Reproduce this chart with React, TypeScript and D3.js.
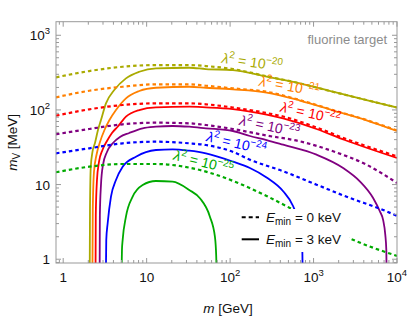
import React from "react";
import * as d3 from "d3";

type Pt = [number, number];

// E_min = 0 keV (dashed) and E_min = 3 keV (solid) as [m GeV, mV MeV]
const lam20Dashed: Pt[] = [[0.82, 273.2], [2.054, 331.8], [5.16, 378.8], [12.93, 399.1], [32.37, 399.1], [51.31, 387], [108, 352.8], [273.6, 282.6], [685.4, 227.1], [1702, 175.2], [4313, 135.7], [10000, 107.7]];
const lam20Solid: Pt[] = [[2.08, 0.8], [2.094, 4.571], [2.14, 17.2], [2.243, 27.32], [2.403, 36.04], [2.611, 53.83], [2.836, 73.24], [3.255, 122.6], [4.092, 184.7], [5.65, 264.8], [8.154, 324.7], [12.93, 360.6], [32.37, 367.3], [51.31, 352.8], [108, 342.1], [273.6, 278.3], [685.4, 227.1], [1702, 175.2], [4313, 135.7], [10000, 107.7]];

const lam21Dashed: Pt[] = [[0.82, 147.5], [2.054, 180.7], [5.16, 204.5], [12.93, 220.2], [32.37, 220.2], [51.31, 210.9], [108, 194.6], [273.6, 175.2], [685.4, 135.7], [1702, 99.7], [4313, 73.24], [10000, 53.0]];
const lam21Solid: Pt[] = [[2.243, 0.8], [2.262, 4.571], [2.338, 14.75], [2.505, 24.91], [2.759, 37.17], [3.124, 53.83], [3.585, 73.24], [4.29, 99.7], [5.65, 143], [8.154, 179.1], [12.93, 198.3], [32.37, 204.5], [51.31, 198.3], [108, 188.7], [273.6, 171], [685.4, 133.6], [1702, 98.76], [4313, 72.6], [10000, 52.19]];

const lam22Dashed: Pt[] = [[0.82, 83.63], [2.054, 101.9], [5.16, 116.3], [12.93, 122.6], [32.37, 122.6], [51.31, 118.9], [108, 107.7], [273.6, 90.9], [432.4, 81.59], [1086, 58.14], [2371, 41.41], [10000, 23.92]];
const lam22Solid: Pt[] = [[2.443, 0.8], [2.457, 3.918], [2.54, 11.52], [2.684, 20.07], [2.956, 29.05], [3.346, 38.33], [3.841, 49.07], [4.495, 59.56], [5.65, 81.1], [8.154, 99.7], [12.93, 108.3], [32.37, 110.4], [51.31, 108.3], [108, 102.8], [273.6, 86.79], [432.4, 77.2], [1086, 55.52], [2371, 39.54], [10000, 22.7]];

const lam23Dashed: Pt[] = [[0.82, 47.14], [2.054, 55.52], [5.16, 64.17], [12.93, 67.43], [32.37, 66.18], [51.31, 62.8], [108, 55.52], [273.6, 45.42], [685.4, 37.98], [1717, 27.91], [4313, 18.47], [10000, 10.51]];
const lam23Solid: Pt[] = [[2.736, 0.8], [2.751, 3.918], [2.836, 9.877], [2.997, 18.3], [3.346, 27.32], [3.949, 36.04], [4.788, 43.37], [6.188, 49.07], [8.957, 56.72], [12.93, 59.56], [20.48, 60.86], [32.37, 59.56], [51.31, 56.72], [108, 52.19], [172.7, 44.74], [273.6, 39.54], [432.4, 34.2], [1086, 25.14], [2262, 16.68], [3585, 11.07], [5173, 6.617], [6223, 4.391], [6815, 3.358], [7241, 2.115], [7447, 1.332], [7488, 0.8]];

const lam24Dashed: Pt[] = [[0.82, 26.24], [2.054, 30.61], [5.16, 35.71], [12.93, 37.52], [32.37, 35.71], [51.31, 33.89], [108.9, 27.32], [172.7, 21.54], [432.4, 15.07], [1086, 9.97], [2721, 6.617], [6815, 4.571], [10000, 3.799]];
const lam24Solid: Pt[] = [[3.255, 0.8], [3.282, 1.813], [3.411, 3.033], [3.737, 6.887], [4.29, 11.52], [5.16, 17.36], [7.444, 23.63], [12.93, 29.05], [20.48, 29.68], [32.37, 28.44], [51.31, 26.24], [108.9, 20.26], [172.7, 16.68], [273.6, 12.45], [432.4, 8.135], [569.9, 5.124], [648.6, 3.358], [704.6, 1.988], [734.3, 1.252], [738.4, 0.8]];

const lam25Dashed: Pt[] = [[0.82, 14.61], [2.054, 17.36], [5.16, 18.87], [12.93, 18.87], [25.05, 17.74], [43.48, 15.68], [108.9, 11.17], [273.6, 7.037], [520.3, 4.862], [1190, 3.015], [2648, 1.928], [10000, 1.107]];
const lam25Solid: Pt[] = [[5.019, 0.8], [5.061, 1.332], [5.16, 1.813], [5.65, 3.718], [6.798, 6.887], [8.957, 9.877], [12.93, 11.17], [20.48, 10.94], [32.37, 8.466], [43.48, 6.556], [57.3, 3.718], [65.77, 2.006], [68.16, 1.107], [68.73, 0.8]];

const exponents = ["20", "21", "22", "23", "24", "25"];
const colors = ["#aaaa00", "#ff8000", "#ff0000", "#800080", "#0000ff", "#00aa00"];
const dashedSeries = [lam20Dashed, lam21Dashed, lam22Dashed, lam23Dashed, lam24Dashed, lam25Dashed];
const solidSeries = [lam20Solid, lam21Solid, lam22Solid, lam23Solid, lam24Solid, lam25Solid];
// label anchors [m, mV] and tilt
const labelAt: Pt[] = [[182, 399], [506, 190.5], [903, 82.9], [292, 55.5], [117, 32.9], [47.2, 18.3]];
const labelTilt = [8, 10, 12, 12, 13, 14];

const xTickLabels: [number, string, string][] = [[1, "1", ""], [10, "10", ""], [100, "10", "2"], [1000, "10", "3"], [10000, "10", "4"]];
const yTickLabels: [number, string, string][] = [[1, "1", ""], [10, "10", ""], [100, "10", "2"], [1000, "10", "3"]];
const legendItems = [{ dash: "4,3", e: "0" }, { dash: "", e: "3" }];

const W = 407, H = 319;
const left = 56, right = 397, top = 21.7, bottom = 263;
const font = "'Liberation Sans', Arial, sans-serif";

export default function App() {
  const x = d3.scaleLog().domain([0.82, 10000]).range([left, right]);
  const y = d3.scaleLog().domain([0.89, 1520]).range([bottom, top]);
  const line = d3.line<Pt>().x((d) => x(d[0])).y((d) => y(d[1])).curve(d3.curveMonotoneX);

  const minor = (dom: number[]) => {
    const out: number[] = [];
    for (let p = -1; p <= 4; p++)
      for (let k = 2; k <= 9; k++) {
        const v = k * Math.pow(10, p);
        if (v >= dom[0] && v <= dom[1]) out.push(v);
      }
    return out;
  };
  const xMinor = minor(x.domain());
  const yMinor = minor(y.domain());
  const xMajor = xTickLabels.map((t) => t[0]);
  const yMajor = yTickLabels.map((t) => t[0]);
  const frame = "#999";

  return (
    <svg width={W} height={H} style={{ position: "absolute", left: 0, top: 0, fontFamily: font }}>
      <defs>
        <clipPath id="plot">
          <rect x={left} y={top} width={right - left} height={bottom - top} />
        </clipPath>
      </defs>
      <rect width={W} height={H} fill="#fff" />

      <g clipPath="url(#plot)" fill="none" strokeWidth={1.8}>
        {solidSeries.map((s, i) => (
          <path key={"s" + i} d={line(s) || ""} stroke={colors[i]} />
        ))}
        {dashedSeries.map((s, i) => (
          <path key={"d" + i} d={line(s) || ""} stroke={colors[i]} strokeDasharray="3.5,3" strokeWidth={2.2} />
        ))}
      </g>

      {/* curve labels */}
      {labelAt.map((p, i) => (
        <text key={"l" + i} transform={`translate(${x(p[0])},${y(p[1])}) rotate(${labelTilt[i]})`}
          textAnchor="middle" dy="2" fontSize={14} fill={colors[i]}>
          <tspan fontStyle="italic">λ</tspan>
          <tspan fontSize={10} dy="-6">2</tspan>
          <tspan dy="6"> = 10</tspan>
          <tspan fontSize={10} dy="-6">−{exponents[i]}</tspan>
        </text>
      ))}

      {/* legend */}
      <rect x={236} y={209} width={113} height={43} fill="#fff" />
      {legendItems.map((it, i) => {
        const ly = 217.3 + i * 22;
        return (
          <g key={"g" + i}>
            <line x1={241.7} x2={259} y1={ly} y2={ly} stroke="#000" strokeWidth={2} strokeDasharray={it.dash} />
            <text x={266} y={ly + 5} fontSize={13.5} fill="#111">
              <tspan fontStyle="italic">E</tspan>
              <tspan fontSize={10} dy="3">min</tspan>
              <tspan dy="-3"> = {it.e} keV</tspan>
            </text>
          </g>
        );
      })}

      <text x={387} y={44} textAnchor="end" fontSize={13} fill="#8c8c8c">fluorine target</text>

      {/* frame and ticks */}
      <rect x={left} y={top} width={right - left} height={bottom - top} fill="none" stroke={frame} strokeWidth={1} />
      <g stroke={frame} strokeWidth={1}>
        {xMajor.concat(xMinor).map((v, i) => {
          const len = i < xMajor.length ? 5 : 3;
          return (
            <g key={"xt" + i}>
              <line x1={x(v)} x2={x(v)} y1={bottom} y2={bottom - len} />
              <line x1={x(v)} x2={x(v)} y1={top} y2={top + len} />
            </g>
          );
        })}
        {yMajor.concat(yMinor).map((v, i) => {
          const len = i < yMajor.length ? 5 : 3;
          return (
            <g key={"yt" + i}>
              <line x1={left} x2={left + len} y1={y(v)} y2={y(v)} />
              <line x1={right} x2={right - len} y1={y(v)} y2={y(v)} />
            </g>
          );
        })}
      </g>

      {xTickLabels.map(([v, b, e], i) => (
        <text key={"xl" + i} x={x(v)} y={bottom + 19} textAnchor="middle" fontSize={13.5} fill="#111">
          {b}
          {e && <tspan fontSize={9.5} dy="-6">{e}</tspan>}
        </text>
      ))}
      {yTickLabels.map(([v, b, e], i) => (
        <text key={"yl" + i} x={50} y={y(v) + 5} textAnchor="end" fontSize={13.5} fill="#111">
          {b}
          {e && <tspan fontSize={9.5} dy="-6">{e}</tspan>}
        </text>
      ))}

      <text x={228} y={313} textAnchor="middle" fontSize={13.5} fill="#111">
        <tspan fontStyle="italic">m</tspan> [GeV]
      </text>
      <text transform={`translate(17,${(top + bottom) / 2}) rotate(-90)`} textAnchor="middle" fontSize={13.5} fill="#111">
        <tspan fontStyle="italic">m</tspan>
        <tspan fontSize={10} dy="3">V</tspan>
        <tspan dy="-3"> [MeV]</tspan>
      </text>
    </svg>
  );
}
